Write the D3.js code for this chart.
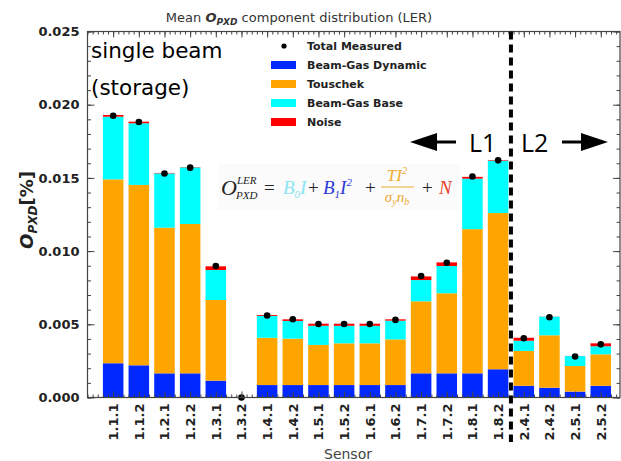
<!DOCTYPE html>
<html>
<head>
<meta charset="utf-8">
<script src="https://cdn.jsdelivr.net/npm/d3@7"></script>
<style>
  html, body { margin: 0; padding: 0; background: #fff; }
  svg { display: block; }
</style>
</head>
<body>
<svg id="chart" width="621" height="461"></svg>
<script>
// PXD sensors (LER, single beam storage)
const sensors = ["1.1.1","1.1.2","1.2.1","1.2.2","1.3.1","1.3.2","1.4.1","1.4.2","1.5.1","1.5.2",
                 "1.6.1","1.6.2","1.7.1","1.7.2","1.8.1","1.8.2","2.4.1","2.4.2","2.5.1","2.5.2"];
// stacked components, in %
const beamGasDynamic = [0.00234,0.00220,0.00165,0.00165,0.00115,0,0.00085,0.00085,0.00085,0.00085,
                        0.00085,0.00085,0.00165,0.00165,0.00165,0.00193,0.00080,0.00067,0.00040,0.00080];
const touschek       = [0.01256,0.01232,0.00995,0.01020,0.00551,0,0.00323,0.00317,0.00274,0.00285,
                        0.00285,0.00312,0.00492,0.00547,0.00985,0.01067,0.00238,0.00358,0.00175,0.00215];
const beamGasBase    = [0.00428,0.00421,0.00371,0.00387,0.00205,0,0.00149,0.00121,0.00131,0.00120,
                        0.00120,0.00128,0.00145,0.00186,0.00345,0.00358,0.00070,0.00127,0.00068,0.00055];
const noise          = [0.00012,0.00011,0.00003,0.00002,0.00025,0,0.00006,0.00011,0.00014,0.00014,
                        0.00014,0.00009,0.00025,0.00025,0.00012,0.00004,0.00020,0.00001,0.00001,0.00020];
const totalMeasured  = [0.01925,0.01882,0.01530,0.01570,0.00898,0,0.00560,0.00534,0.00502,0.00502,
                        0.00502,0.00530,0.00830,0.00920,0.01510,0.01620,0.00405,0.00548,0.00280,0.00363];
const yTicks = [0, 0.005, 0.010, 0.015, 0.020, 0.025];

const seriesNames  = ["Beam-Gas Dynamic","Touschek","Beam-Gas Base","Noise"];
const seriesColors = ["#0028ff","#ffa500","#00ffff","#ff0000"];
const seriesData   = [beamGasDynamic, touschek, beamGasBase, noise];

const svg = d3.select("#chart");
const plotL = 87.5, plotR = 620, plotT = 31.5, plotB = 397.5;

const x = d3.scaleLinear().domain([-1, 19.75]).range([plotL, plotR]);
const y = d3.scaleLinear().domain([0, 0.025]).range([plotB, plotT]);
const barW = x(0.8) - x(0);

// stacked bars
const rows = sensors.map((s, i) => {
  const r = { sensor: s, i };
  seriesNames.forEach((n, k) => r[n] = seriesData[k][i]);
  return r;
});
const stacked = d3.stack().keys(seriesNames)(rows);
stacked.forEach((layer, k) => {
  svg.append("g").attr("fill", seriesColors[k])
    .selectAll("rect").data(layer).join("rect")
    .attr("x", d => x(d.data.i) - barW / 2)
    .attr("width", barW)
    .attr("y", d => y(d[1]))
    .attr("height", d => Math.max(0, y(d[0]) - y(d[1])));
});

// measured totals
svg.append("g").selectAll("circle").data(totalMeasured).join("circle")
  .attr("cx", (d, i) => x(i)).attr("cy", d => y(d)).attr("r", 3.3).attr("fill", "#000");

// frame and ticks (inward, all four sides)
const frameCol = "#444";
const yAxisL = d3.axisLeft(y).tickValues(yTicks).tickSize(-7).tickFormat(d3.format(".3f")).tickPadding(8);
const gL = svg.append("g").attr("transform", `translate(${plotL},0)`).call(yAxisL);
gL.select(".domain").remove();
gL.selectAll("line").attr("stroke", frameCol);
gL.selectAll("text").attr("font-family", "DejaVu Sans").attr("font-weight", "bold")
  .attr("font-size", 13).attr("fill", "#222");

const yMinor = d3.range(0, 0.0251, 0.001);
const gLm = svg.append("g").attr("transform", `translate(${plotL},0)`)
  .call(d3.axisLeft(y).tickValues(yMinor).tickSize(-3.5).tickFormat(""));
gLm.select(".domain").remove();
gLm.selectAll("line").attr("stroke", frameCol);

const gR = svg.append("g").attr("transform", `translate(${plotR},0)`)
  .call(d3.axisRight(y).tickValues(yTicks).tickSize(-7).tickFormat(""));
gR.select(".domain").remove();
gR.selectAll("line").attr("stroke", frameCol);
const gRm = svg.append("g").attr("transform", `translate(${plotR},0)`)
  .call(d3.axisRight(y).tickValues(yMinor).tickSize(-3.5).tickFormat(""));
gRm.select(".domain").remove();
gRm.selectAll("line").attr("stroke", frameCol);

const xMajor = d3.range(sensors.length);
const xMinor = d3.range(-1, 19.75, 0.2);
const gB = svg.append("g").attr("transform", `translate(0,${plotB})`)
  .call(d3.axisBottom(x).tickValues(xMajor).tickSize(-6).tickFormat(i => sensors[i]));
gB.select(".domain").remove();
gB.selectAll("line").attr("stroke", frameCol);
gB.selectAll("text").attr("font-family", "DejaVu Sans").attr("font-weight", "bold")
  .attr("font-size", 13).attr("fill", "#222")
  .attr("text-anchor", "end").attr("dominant-baseline", "central")
  .attr("x", 0).attr("y", 0).attr("dy", null)
  .attr("transform", "translate(0,6) rotate(-90)");
const gBm = svg.append("g").attr("transform", `translate(0,${plotB})`)
  .call(d3.axisBottom(x).tickValues(xMinor).tickSize(-3).tickFormat(""));
gBm.select(".domain").remove();
gBm.selectAll("line").attr("stroke", frameCol);

const gT = svg.append("g").attr("transform", `translate(0,${plotT})`)
  .call(d3.axisTop(x).tickValues(xMajor).tickSize(-6).tickFormat(""));
gT.select(".domain").remove();
gT.selectAll("line").attr("stroke", frameCol);
const gTm = svg.append("g").attr("transform", `translate(0,${plotT})`)
  .call(d3.axisTop(x).tickValues(xMinor).tickSize(-3).tickFormat(""));
gTm.select(".domain").remove();
gTm.selectAll("line").attr("stroke", frameCol);

svg.append("rect").attr("x", plotL).attr("y", plotT)
  .attr("width", plotR - plotL).attr("height", plotB - plotT)
  .attr("fill", "none").attr("stroke", frameCol).attr("stroke-width", 1.2);

// layer boundary between L1 and L2
const xSplit = x(15.5);
svg.append("line").attr("x1", xSplit).attr("x2", xSplit).attr("y1", plotT).attr("y2", 442)
  .attr("stroke", "#000").attr("stroke-width", 4).attr("stroke-dasharray", "8,5");

// title
const title = svg.append("text").attr("x", 299).attr("y", 22).attr("text-anchor", "middle")
  .attr("font-family", "DejaVu Sans").attr("font-size", 13).attr("fill", "#333");
title.append("tspan").text("Mean ");
title.append("tspan").attr("font-weight", "bold").attr("font-style", "italic").text("O");
title.append("tspan").attr("font-weight", "bold").attr("font-style", "italic")
  .attr("font-size", 9).attr("dy", 3).text("PXD");
title.append("tspan").attr("dy", -3).text(" component distribution (LER)");

// axis labels
svg.append("text").attr("x", 348).attr("y", 459).attr("text-anchor", "middle")
  .attr("font-family", "DejaVu Sans").attr("font-size", 14).attr("fill", "#444").text("Sensor");

const yl = svg.append("text").attr("transform", "translate(33,210) rotate(-90)")
  .attr("text-anchor", "middle").attr("font-family", "DejaVu Sans").attr("font-weight", "bold")
  .attr("font-size", 18).attr("fill", "#222");
yl.append("tspan").attr("font-style", "italic").text("O");
yl.append("tspan").attr("font-style", "italic").attr("font-size", 12).attr("dy", 4).text("PXD");
yl.append("tspan").attr("dy", -4).text("[%]");

// beam condition note
const note = svg.append("g").attr("font-family", "DejaVu Sans").attr("font-size", 21.5).attr("fill", "#000");
note.append("text").attr("x", 91).attr("y", 58).text("single beam");
note.append("text").attr("x", 91).attr("y", 95).text("(storage)");

// legend
const legend = svg.append("g").attr("font-family", "DejaVu Sans").attr("font-weight", "bold")
  .attr("font-size", 11).attr("fill", "#222");
const legY0 = 46, legDy = 19;
legend.append("circle").attr("cx", 284).attr("cy", legY0).attr("r", 2.6).attr("fill", "#000");
legend.append("text").attr("x", 307).attr("y", legY0).attr("dy", "0.35em").text("Total Measured");
seriesNames.forEach((n, k) => {
  const yy = legY0 + legDy * (k + 1);
  legend.append("rect").attr("x", 271).attr("y", yy - 4).attr("width", 25).attr("height", 8)
    .attr("fill", seriesColors[k]);
  legend.append("text").attr("x", 307).attr("y", yy).attr("dy", "0.35em").text(n);
});

// L1 / L2 arrows
const ann = svg.append("g");
ann.append("path").attr("d", "M410,142 L437,133 L437,151 Z").attr("fill", "#000");
ann.append("line").attr("x1", 435).attr("x2", 456).attr("y1", 142).attr("y2", 142)
  .attr("stroke", "#000").attr("stroke-width", 3);
ann.append("path").attr("d", "M608,142 L581,133 L581,151 Z").attr("fill", "#000");
ann.append("line").attr("x1", 562).attr("x2", 583).attr("y1", 142).attr("y2", 142)
  .attr("stroke", "#000").attr("stroke-width", 3);
ann.append("text").attr("x", 469).attr("y", 152).attr("font-family", "Open Sans, DejaVu Sans")
  .attr("font-size", 25).text("L1");
ann.append("text").attr("x", 521).attr("y", 152).attr("font-family", "Open Sans, DejaVu Sans")
  .attr("font-size", 25).text("L2");

// fit model
const f = svg.append("g").attr("font-family", "Liberation Serif").attr("font-style", "italic");
f.append("rect").attr("x", 218).attr("y", 164).attr("width", 242).attr("height", 46)
  .attr("fill", "#f4f4f4").attr("opacity", 0.35);
f.append("text").attr("x", 221).attr("y", 195).attr("font-size", 22).attr("fill", "#222").text("O");
f.append("text").attr("x", 237).attr("y", 184).attr("font-size", 11).attr("fill", "#222").text("LER");
f.append("text").attr("x", 236).attr("y", 199).attr("font-size", 11).attr("fill", "#222").text("PXD");
f.append("text").attr("x", 264).attr("y", 194).attr("font-size", 19).attr("font-style", "normal").attr("fill", "#222").text("=");
const b0 = f.append("text").attr("x", 283).attr("y", 194).attr("font-size", 19).attr("fill", "#8ae4f4");
b0.append("tspan").text("B");
b0.append("tspan").attr("font-size", 11).attr("dy", 4).text("0");
b0.append("tspan").attr("dy", -4).text("I");
f.append("text").attr("x", 308).attr("y", 194).attr("font-size", 19).attr("font-style", "normal").attr("fill", "#222").text("+");
const b1 = f.append("text").attr("x", 323).attr("y", 194).attr("font-size", 19).attr("fill", "#2a3ad6");
b1.append("tspan").text("B");
b1.append("tspan").attr("font-size", 11).attr("dy", 4).text("1");
b1.append("tspan").attr("dy", -4).text("I");
b1.append("tspan").attr("font-size", 11).attr("dy", -8).text("2");
f.append("text").attr("x", 365).attr("y", 194).attr("font-size", 19).attr("font-style", "normal").attr("fill", "#222").text("+");
const num = f.append("text").attr("x", 397).attr("y", 181).attr("text-anchor", "middle").attr("font-size", 17).attr("fill", "#f0aa30");
num.append("tspan").text("TI");
num.append("tspan").attr("font-size", 11).attr("dy", -7).text("2");
f.append("line").attr("x1", 381).attr("x2", 414).attr("y1", 187).attr("y2", 187)
  .attr("stroke", "#f0aa30").attr("stroke-width", 1);
const den = f.append("text").attr("x", 397).attr("y", 202).attr("text-anchor", "middle").attr("font-size", 15).attr("fill", "#f0aa30");
den.append("tspan").text("σ");
den.append("tspan").attr("font-size", 10).attr("dy", 3).text("y");
den.append("tspan").attr("dy", -3).text("n");
den.append("tspan").attr("font-size", 10).attr("dy", 3).text("b");
f.append("text").attr("x", 422).attr("y", 194).attr("font-size", 19).attr("font-style", "normal").attr("fill", "#222").text("+");
f.append("text").attr("x", 439).attr("y", 194).attr("font-size", 19).attr("fill", "#e8412c").text("N");
</script>
</body>
</html>
